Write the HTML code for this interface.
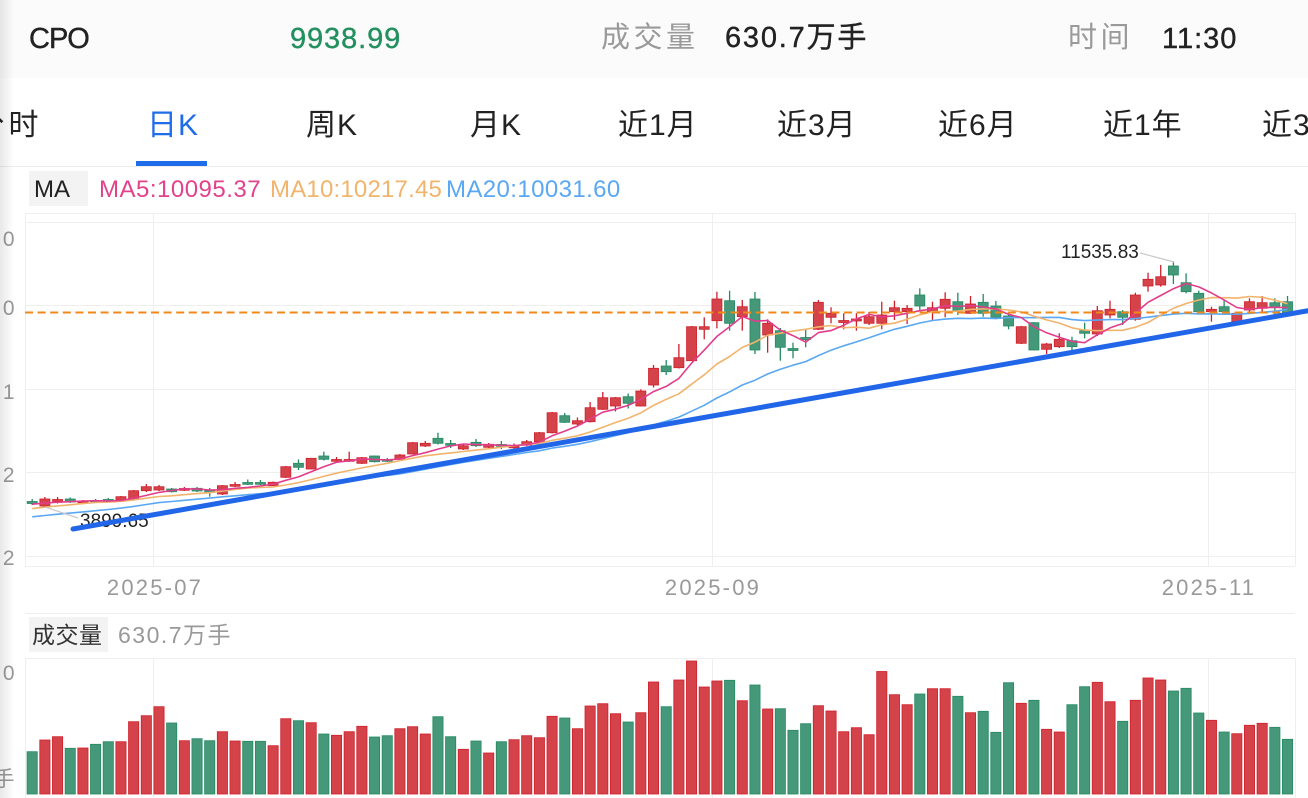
<!DOCTYPE html>
<html><head><meta charset="utf-8">
<style>
html,body{margin:0;padding:0;background:#fff;width:1308px;height:798px;overflow:hidden;}
svg{display:block;font-family:"Liberation Sans","Noto Sans CJK SC",sans-serif;}
</style></head><body>
<svg id="s" width="1308" height="798" viewBox="0 0 1308 798" xmlns="http://www.w3.org/2000/svg">
<defs>
<linearGradient id="lg" x1="0" y1="0" x2="1" y2="0">
<stop offset="0" stop-color="#000" stop-opacity="0.09"/>
<stop offset="1" stop-color="#000" stop-opacity="0"/>
</linearGradient>
</defs>
<rect width="1308" height="798" fill="#fff"/>
<rect width="1308" height="78" fill="#fbfbfb"/>
<!-- header -->
<text x="29" y="48" font-size="29" fill="#222" letter-spacing="-1" stroke="#222" stroke-width="0.4">CPO</text>
<text x="290" y="48" font-size="29" fill="#23905f" letter-spacing="0.9" stroke="#23905f" stroke-width="0.4">9938.99</text>
<text x="601" y="47" font-size="29" fill="#9a9a9a" letter-spacing="3.5">成交量</text>
<text x="725" y="47" font-size="29" fill="#222" letter-spacing="1.8" stroke="#222" stroke-width="0.4">630.7万手</text>
<text x="1068" y="47" font-size="29" fill="#9a9a9a" letter-spacing="3.5">时间</text>
<text x="1162" y="48" font-size="29" fill="#222" letter-spacing="1" stroke="#222" stroke-width="0.4">11:30</text>
<!-- tabs -->
<g font-size="30" fill="#222" letter-spacing="1">
<text x="-25.5" y="135">分</text>
<text x="8.5" y="135">时</text>
<text x="147" y="135" fill="#1f6de9">日K</text>
<text x="306" y="135">周K</text>
<text x="470" y="135">月K</text>
<text x="618" y="135">近1月</text>
<text x="777" y="135">近3月</text>
<text x="938" y="135">近6月</text>
<text x="1103" y="135">近1年</text>
<text x="1262" y="135">近3月</text>
</g>
<rect x="136" y="161" width="71" height="5" fill="#1f6de9"/>
<rect x="0" y="166" width="1308" height="1" fill="#ececec"/>
<!-- MA row -->
<rect x="29" y="171" width="59" height="35" fill="#f3f3f3"/>
<text x="34" y="197" font-size="24" fill="#222">MA</text>
<text x="99" y="197" font-size="24" fill="#e4418b" letter-spacing="0.5">MA5:10095.37</text>
<text x="270" y="197" font-size="24" fill="#f2b46c" letter-spacing="0.2">MA10:10217.45</text>
<text x="446" y="197" font-size="24" fill="#5aa8f3" letter-spacing="0.4">MA20:10031.60</text>
<!-- price grid -->
<g stroke="#efefef" stroke-width="1" fill="none">
<line x1="25" y1="213.5" x2="1295" y2="213.5"/>
<line x1="25" y1="222.5" x2="1295" y2="222.5"/>
<line x1="25" y1="305.5" x2="1295" y2="305.5"/>
<line x1="25" y1="389.5" x2="1295" y2="389.5"/>
<line x1="25" y1="472.5" x2="1295" y2="472.5"/>
<line x1="25" y1="556.5" x2="1295" y2="556.5"/>
<line x1="25" y1="566.5" x2="1295" y2="566.5"/>
<line x1="25" y1="613.5" x2="1295" y2="613.5"/>
<line x1="25.5" y1="213" x2="25.5" y2="566"/>
<line x1="153.5" y1="213" x2="153.5" y2="566"/>
<line x1="712.5" y1="213" x2="712.5" y2="566"/>
<line x1="1208.5" y1="213" x2="1208.5" y2="566"/>
<line x1="1295.5" y1="213" x2="1295.5" y2="566"/>
<line x1="25" y1="658.5" x2="1295" y2="658.5"/>
<line x1="25.5" y1="658" x2="25.5" y2="798"/>
<line x1="153.5" y1="658" x2="153.5" y2="798"/>
<line x1="712.5" y1="658" x2="712.5" y2="798"/>
<line x1="1208.5" y1="658" x2="1208.5" y2="798"/>
<line x1="1295.5" y1="658" x2="1295.5" y2="798"/>
</g>
<!-- y labels -->
<g font-size="21" fill="#999" text-anchor="end">
<text x="14.5" y="246">0</text>
<text x="14.5" y="315">0</text>
<text x="14.5" y="399">1</text>
<text x="14.5" y="482">2</text>
<text x="14.5" y="565">2</text>
<text x="14.5" y="680">0</text>
<text x="14.5" y="786">万手</text>
</g>
<!-- x labels -->
<g font-size="22" fill="#999" text-anchor="middle" letter-spacing="2.2">
<text x="155" y="595">2025-07</text>
<text x="713" y="595">2025-09</text>
<text x="1209" y="595">2025-11</text>
</g>
<!-- volume label -->
<rect x="29" y="617" width="79" height="35" fill="#f3f3f3"/>
<text x="32" y="643" font-size="23" fill="#333" letter-spacing="0.5">成交量</text>
<text x="118" y="643" font-size="23" fill="#999" letter-spacing="1.5">630.7万手</text>

<g id="vols"></g>
<g id="candles"></g>
<g id="mas"></g>
<line x1="25" y1="312.5" x2="1308" y2="312.5" stroke="#f0891a" stroke-width="2" stroke-dasharray="8 4.6"/>
<!-- hi/lo labels -->
<line x1="1140" y1="253" x2="1174" y2="262" stroke="#c8c8c8" stroke-width="1.2"/>
<text x="1061" y="258" font-size="19" fill="#222">11535.83</text>
<line x1="45" y1="507" x2="78" y2="518" stroke="#c8c8c8" stroke-width="1.2"/>
<text x="80" y="527" font-size="19" fill="#222">3899.65</text>
<!-- trendline -->
<line x1="73" y1="529" x2="1308" y2="310.7" stroke="#2166e8" stroke-width="5" stroke-linecap="round"/>
<rect x="0" y="0" width="14" height="798" fill="url(#lg)"/>
</svg>
<script>
(function(){
var C=[
['G',501.5,503.5,499,505],['R',499,506,497,507],['R',499.5,501,497,503.5],['G',499,502,497.5,503],['R',501,502.5,500,503.5],
['G',500.5,502,499,503],['G',499.5,501,498,502],['R',496.7,500,496,501],['R',490.7,499.3,490,500],['R',486.7,490.7,484,492],
['R',486.7,490,485,491],['G',489,491.7,488,492.5],['R',488.5,490,487,491],['G',488.3,491,487,492],['G',490.5,492,488,496.7],
['R',485.7,494,485,495],['R',484.5,486,482,487],['G',482.5,484,479.5,485],['G',482.5,484,480,485],['R',482.3,485.7,481.5,486],
['R',466.7,477.3,466,478],['G',463.3,467.3,459.5,470],['R',458.3,469,458,469.5],['G',456,459.3,451.7,460.5],['R',459.5,461,457,463],
['R',459.5,461,451.7,462],['R',457.7,463.3,457,464],['G',456,461.7,455.5,462.5],['G',459.5,461,458,462],['R',455,459.3,454,460],
['R',442.7,454,442,454.5],['R',443.3,446,441,447],['G',438.3,443.3,432.7,444.5],['G',443.5,445,440,448],['R',445.7,449,444,450],
['G',442.3,445.7,439,447],['R',444.3,447.3,443,448],['G',444.5,446,441,449],['R',446,447.5,443.5,448.5],['R',441.7,445,440,446],
['R',432.7,441.7,432,442.5],['R',412.7,432.7,412,433.5],['G',415.7,422.3,413,423],['R',420.7,424,417.5,425],['R',407.7,421.7,402,422.5],
['R',397.7,409.3,392,410],['R',397.7,406,397,411.5],['G',396.7,403.3,393.5,408.5],['R',391,406,389.3,406.5],['R',368.3,385,365,387.5],
['G',366,371.7,360,375],['R',357.7,367.7,344,368.5],['R',326.7,360.7,326,361],['R',326.7,329.3,317.3,339.3],['R',299,320.7,291.7,328.3],
['G',300.7,323.3,290.7,330.7],['R',306.7,316.7,300,330.7],['G',299,350,292,354],['R',323.3,335,319.3,352.7],['G',330.7,347.3,328,360.7],
['G',348.5,350.5,342.7,358.3],['G',337.5,339.5,329.3,347.3],['R',302.3,329.3,300,330],['R',313.3,317.3,307.3,323.3],['R',320.5,322.5,313.3,329.3],
['R',319,321,313.3,330.7],['R',316.7,323.3,312,325],['R',315,323.3,301.7,329.3],['R',307.7,311.7,300.7,320],['R',308.3,311.7,305,324],
['G',295,306,288.3,310.7],['R',307.7,311.7,301.7,320],['R',299.3,308.3,292.3,317.3],['G',301.7,310.7,292.7,315],['R',304,313.3,296,314],
['G',302.3,313.3,294,316.7],['G',306,317.3,301,319.3],['G',316,326,311.7,329.3],['R',326.7,343.3,326,344],['G',322.7,350,322,350.5],
['R',344,349.3,343,354],['R',339.3,346.7,333.3,348],['G',340.7,346.7,336.7,350.7],['G',330.7,333.3,322.7,338.3],['R',310.7,334,306,336],
['R',309.3,315,300.7,318.3],['G',311.7,317.3,310,325],['R',295,319.3,292.7,320.7],['R',279.3,286,272.7,291.7],['R',276.7,285,265,286.7],
['G',266,275,261.7,284],['G',282.7,291.7,273.3,293.3],['G',293.3,311.7,290.7,312],['R',309.3,311.7,306.7,321.7],['G',306.7,311.7,300,315],
['R',313.3,321.7,313,322.5],['R',301.7,310,298.3,313.3],['R',302.7,308.3,296,311.7],['G',302.7,307.3,298.3,315],['G',301.7,312.7,296,313]
];
var V=[751.7,740,736.7,748.3,748,744.3,741.7,741.7,721.7,715.7,
706.7,723,740.7,738.7,740.7,731.7,741,741.3,741.3,745.7,
718.7,720.7,722.7,734,735.3,731.7,726.3,737,735.7,728.7,
726.7,734,716.7,736.7,749.3,741,753,741.7,739.7,735.7,
737.7,716.3,718,728.7,706,703.7,713.7,722,712.7,682,
706.7,680,661,687,681,680.3,700.7,685,709,708.7,
730.3,723.7,705.7,711,731.7,727.7,734.7,671.5,694.7,704.7,
694,688.7,688.7,696.3,712.7,711.3,732.3,682.7,703.3,700.3,
729.3,732,704.7,686.7,682.3,701.7,721.3,700.3,678,680,
691,688.3,713,720.3,732,733.7,725.3,723.3,727.3,739.3];
var ns='http://www.w3.org/2000/svg';
function el(t,a,p){var e=document.createElementNS(ns,t);for(var k in a)e.setAttribute(k,a[k]);p.appendChild(e);return e;}
var gC=document.getElementById('candles'),gV=document.getElementById('vols'),gM=document.getElementById('mas');
var RF='#d5434a',RS='#cf1f2b',GF='#46987a',GS='#238a60';
for(var i=0;i<C.length;i++){
 var c=C[i],x=32.2+i*12.68,r=c[0]=='R',f=r?RF:GF,s=r?RS:GS;
 el('line',{x1:x,x2:x,y1:c[3],y2:c[4],stroke:s,'stroke-width':1.3},gC);
 var h=Math.max(c[2]-c[1],1.8);
 el('rect',{x:x-5,y:c[1],width:10,height:h,fill:f,stroke:s,'stroke-width':0.8},gC);
 el('rect',{x:x-5.1,y:V[i],width:10.2,height:794-V[i],fill:f,stroke:s,'stroke-width':0.8},gV);
}
var cl=[],k;
for(k=0;k<10;k++)cl.push(525);for(k=0;k<5;k++)cl.push(513);for(k=0;k<4;k++)cl.push(504.4);
for(i=0;i<C.length;i++)cl.push(C[i][0]=='R'?C[i][1]:C[i][2]);
function ma(n,col){var pts=[];for(var i=0;i<C.length;i++){var s=0;for(var k=0;k<n;k++)s+=cl[i+19-k];pts.push((32.2+i*12.68).toFixed(1)+','+(s/n).toFixed(1));}
 el('polyline',{points:pts.join(' '),fill:'none',stroke:col,'stroke-width':1.6,'stroke-linejoin':'round'},gM);}
ma(20,'#5aa8f3');ma(10,'#f2b46c');ma(5,'#e23d8b');
})();
</script>
</body></html>
